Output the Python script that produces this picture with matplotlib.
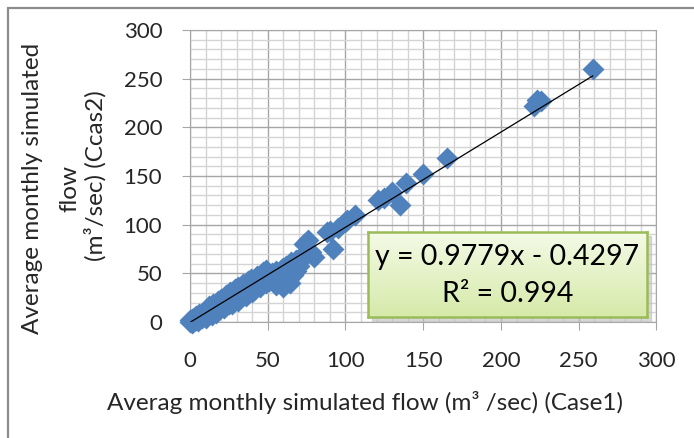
import numpy as np
import matplotlib.pyplot as plt
from matplotlib.patches import Rectangle

# values (case1 flow, case2 flow), m3/sec
case1 = [0, 1, 2, 3, 1.5, 4, 5, 6, 7, 8, 9, 10, 3, 6, 8, 2, 5, 0, 1, 4,
         11, 12, 13, 14, 15, 16, 17, 18, 19, 20, 21, 22, 24, 25, 26, 28,
         30, 32, 33, 35, 36, 38, 40, 41, 42, 44, 45, 46, 48, 50, 51, 52,
         53, 55, 56, 57, 58, 59, 60, 61, 62, 63, 64, 65, 66, 68, 70,
         12, 15, 18, 20, 23, 26, 29, 31, 34, 37, 39, 43, 47, 49,
         10, 14, 17, 22, 27, 31, 36, 40, 45, 49, 54,
         55, 58, 60, 62, 64, 66, 68, 70, 72, 73, 75, 76, 78, 80,
         88, 90, 92, 95, 100, 101, 106,
         121, 125, 130, 135, 139, 150, 165, 221, 223, 226, 259]
case2 = [0, 0.5, 1, 2.5, 3, 2, 4, 5, 5.5, 7, 8, 9, 5, 8, 4, 0, 1, 2, -1, 6,
         10, 12, 11, 13, 12, 15, 14, 13, 18, 17, 15, 20, 22, 19, 24, 25,
         27, 26, 30, 32, 29, 35, 36, 33, 38, 40, 37, 42, 44, 45, 42, 48,
         50, 52, 47, 44, 40, 54, 55, 50, 58, 48, 60, 62, 56, 64, 65,
         16, 19, 22, 24, 28, 31, 34, 36, 39, 42, 44, 47, 51, 53,
         4, 7, 9, 14, 18, 22, 27, 31, 36, 40, 45,
         38, 42, 36, 44, 40, 48, 52, 58, 68, 80, 70, 84, 72, 67,
         92, 94, 75, 97, 103, 105, 110,
         125, 127, 134, 120, 143, 152, 168, 222, 228, 227, 260]
slope, intercept, r2 = 0.9779, -0.4297, 0.994
ticks = [0, 50, 100, 150, 200, 250, 300]

plt.rcParams['font.family'] = ['Lato', 'DejaVu Sans']
txt = '#262626'

fig = plt.figure(figsize=(6.94, 4.38), dpi=100)
W, H = 694, 438
ax = fig.add_axes([190 / W, 1 - 322 / H, 466.5 / W, 292 / H])

# outer chart frame (only top/left show in the picture)
fig.patches.append(Rectangle((8 / W, -0.1), 1.2, 1 - 8 / H + 0.1, transform=fig.transFigure,
                             fill=False, edgecolor='#8c8c8c', lw=1.6, zorder=0))

ax.set_xlim(0, 300)
ax.set_ylim(0, 300)
ax.set_xticks(ticks)
ax.set_yticks(ticks)
ax.set_xticks(np.arange(0, 301, 10), minor=True)
ax.set_yticks(np.arange(0, 301, 10), minor=True)
ax.grid(which='minor', color='#d4d4d4', lw=1.0)
ax.grid(which='major', color='#a6a6a6', lw=1.0)
ax.set_axisbelow(True)
for s in ax.spines.values():
    s.set_color('#a6a6a6')
ax.tick_params(which='major', direction='out', length=6, color='#a6a6a6',
               labelsize=16, labelcolor=txt)
ax.tick_params(axis='y', pad=14)
ax.tick_params(axis='x', pad=15)
ax.tick_params(which='minor', length=0)

ax.scatter(case1, case2, marker='D', s=125, color='#4f81bd', lw=0, zorder=3, clip_on=False)
xl = np.array([min(case1), max(case1)])
ax.plot(xl, slope * xl + intercept, color='black', lw=0.9, zorder=4)

fig.text(365 / W, 1 - 402 / H, 'Averag monthly simulated flow (m³ /sec) (Case1)',
         ha='center', va='center', fontsize=17.5, color=txt)
fig.text(33 / W, 1 - 188 / H, 'Average monthly simulated', rotation=90,
         ha='center', va='center', fontsize=17.5, color=txt)
fig.text(70 / W, 1 - 188 / H, 'flow', rotation=90,
         ha='center', va='center', fontsize=17.5, color=txt)
fig.text(95 / W, 1 - 176 / H, '(m³/sec) (Ccas2)', rotation=90,
         ha='center', va='center', fontsize=17.5, color=txt)

# equation box
x0, y0, x1, y1 = 368, 232, 647, 317
fig.patches.append(Rectangle(((x0 + 4) / W, 1 - (y1 + 4) / H), (x1 - x0) / W, (y1 - y0) / H,
                             transform=fig.transFigure, color='#bfbfbf', alpha=0.6, zorder=5))
grad = np.linspace(0, 1, 64).reshape(-1, 1)
bax = fig.add_axes([x0 / W, 1 - y1 / H, (x1 - x0) / W, (y1 - y0) / H], zorder=6)
bax.imshow(grad, aspect='auto', extent=[0, 1, 0, 1], origin='upper',
           cmap=plt.matplotlib.colors.LinearSegmentedColormap.from_list('g', ['#f4fae6', '#d6eaa9']))
bax.set_xticks([])
bax.set_yticks([])
for s in bax.spines.values():
    s.set_color('#9bbb59')
    s.set_linewidth(1.8)
bax.text(0.5, 0.7, f'y = {slope}x - {abs(intercept)}', ha='center', va='center',
         fontsize=20.5, color='black', transform=bax.transAxes)
bax.text(0.5, 0.27, f'R² = {r2}', ha='center', va='center',
         fontsize=20.5, color='black', transform=bax.transAxes)

fig.savefig('out.png', dpi=100)
